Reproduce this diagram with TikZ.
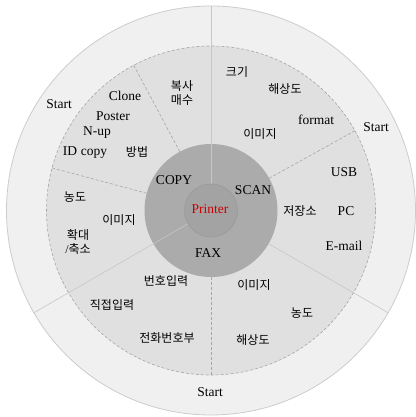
\documentclass[tikz,border=0pt]{standalone}
\usepackage{fontspec}
\usetikzlibrary{calc}
\setmainfont{Liberation Serif}
\newfontfamily\kr{Noto Sans CJK KR}
\begin{document}
\begin{tikzpicture}[x=1pt,y=1pt,
  lat/.style={font=\fontsize{13.5}{15}\selectfont, inner sep=0pt, anchor=center},
  kor/.style={font=\kr\fontsize{12}{14.5}\selectfont, inner sep=0pt, anchor=center, align=center},
  solidline/.style={draw=black!22, line width=0.6pt},
  dashline/.style={draw=black!35, line width=0.6pt, dashed, dash pattern=on 3pt off 2pt}]
\useasboundingbox (0,0) rectangle (415,417);
\coordinate (C) at (211,206.5);
% outer ring
\fill[black!6] (C) circle (204.5);
\draw[black!20, line width=0.8pt] (C) circle (204.5);
% dashed region
\fill[black!12] (C) circle (164.5);
\draw[dashline] (C) circle (164.5);
% dark ring
\fill[black!33] (C) circle (66.5);
% solid dividers
\draw[solidline] ($(C)+(90:26.5)$) -- ($(C)+(90:204.5)$);
\draw[solidline] ($(C)+(210:26.5)$) -- ($(C)+(210:204.5)$);
\draw[solidline] ($(C)+(-30:66.5)$) -- ($(C)+(-30:204.5)$);
% dashed dividers
\draw[dashline] ($(C)+(118:66.5)$) -- ($(C)+(118:164.5)$);
\draw[dashline] ($(C)+(165:66.5)$) -- ($(C)+(165:164.5)$);
\draw[dashline] ($(C)+(29:66.5)$) -- ($(C)+(29:164.5)$);
\draw[dashline] ($(C)+(270:66.5)$) -- ($(C)+(270:164.5)$);
% inner circle
\fill[black!36] (C) circle (26.5);
\draw[black!40, line width=0.6pt] (C) circle (26.5);
% texts
\node[lat, text={rgb,255:red,204;green,0;blue,0}] (printer) at (210,208) {Printer};
\node[lat] (copy) at (174,237) {COPY};
\node[lat] (scan) at (253,227) {SCAN};
\node[lat] (fax) at (208,164) {FAX};
\node[lat] (start1) at (59,313) {Start};
\node[lat] (start2) at (376,290) {Start};
\node[lat] (start3) at (210,25) {Start};
\node[lat] (clone) at (125,321) {Clone};
\node[lat] (poster) at (113,301) {Poster};
\node[lat] (nup) at (97,284) {N-up};
\node[lat] (idcopy) at (85,264) {ID\hspace{4pt}copy};
\node[kor] (bangbeop) at (137,265) {방법};
\node[kor] (boksa) at (182,324) {복사\\매수};
\node[kor] (nongdo1) at (75,220) {농도};
\node[kor] (imiji1) at (119,197) {이미지};
\node[kor] (hwakdae) at (78,175) {확대\\{\rmfamily /}축소};
\node[kor] (keugi) at (237,345) {크기};
\node[kor] (haesang1) at (285,328) {해상도};
\node[lat] (format) at (316,297) {format};
\node[kor] (imiji2) at (260,283) {이미지};
\node[lat] (usb) at (344,245) {USB};
\node[kor] (jeojang) at (300,206) {저장소};
\node[lat] (pc) at (346,206) {PC};
\node[lat] (email) at (344,171) {E-mail};
\node[kor] (imiji3) at (254,132) {이미지};
\node[kor] (nongdo2) at (302,104) {농도};
\node[kor] (haesang2) at (253,77) {해상도};
\node[kor] (beonho) at (166,136) {번호입력};
\node[kor] (jikjeop) at (112,112) {직접입력};
\node[kor] (jeonhwa) at (167,79) {전화번호부};
\end{tikzpicture}
\end{document}
